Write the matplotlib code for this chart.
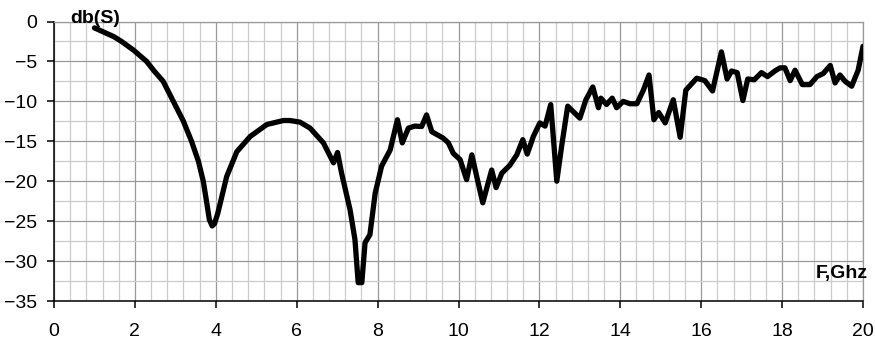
import matplotlib
matplotlib.use("Agg")
import matplotlib.pyplot as plt
from matplotlib.ticker import MultipleLocator

# frequency (GHz) and reflection (dB)
freq = [1.00, 1.48, 1.67, 1.97, 2.29, 2.46, 2.70, 2.95, 3.20, 3.40, 3.57,
        3.69, 3.77, 3.84, 3.91, 3.97, 4.05, 4.27, 4.52, 4.85, 5.26, 5.67, 5.83, 6.08,
        6.33, 6.66, 6.91, 7.01, 7.11, 7.32, 7.44, 7.52, 7.61, 7.69, 7.81,
        7.94, 8.10, 8.31, 8.49, 8.61, 8.76, 8.92, 9.09, 9.21, 9.34, 9.62,
        9.75, 9.87, 10.04, 10.20, 10.33, 10.45, 10.60, 10.82, 10.93, 11.07,
        11.27, 11.44, 11.59, 11.70, 11.85, 12.01, 12.14, 12.28, 12.43, 12.55,
        12.70, 12.84, 13.00, 13.15, 13.32, 13.46, 13.52, 13.66, 13.80, 13.91,
        14.07, 14.24, 14.41, 14.57, 14.71, 14.83, 14.95, 15.11, 15.31, 15.48,
        15.62, 15.89, 16.09, 16.28, 16.50, 16.64, 16.75, 16.89, 17.03, 17.15,
        17.31, 17.49, 17.64, 17.82, 17.95, 18.07, 18.20, 18.32, 18.50, 18.69,
        18.86, 19.02, 19.19, 19.31, 19.43, 19.56, 19.72, 19.88, 20.00]
s_db = [-0.8, -1.9, -2.5, -3.6, -5.0, -6.1, -7.5, -10.0, -12.5, -15.0, -17.5,
        -20.0, -22.5, -24.8, -25.6, -25.3, -24.0, -19.4, -16.3, -14.4, -12.9, -12.4, -12.4, -12.6,
        -13.35, -15.2, -17.7, -16.4, -19.0, -23.6, -27.3, -32.7, -32.7, -27.7, -26.7,
        -21.5, -18.1, -16.1, -12.3, -15.2, -13.35, -13.1, -13.15, -11.7, -13.8, -14.6,
        -15.2, -16.5, -17.3, -19.8, -16.7, -19.4, -22.7, -18.6, -20.8, -19.0,
        -18.0, -16.7, -14.8, -16.6, -14.4, -12.7, -13.1, -10.4, -20.0, -15.6,
        -10.6, -11.3, -12.1, -9.8, -8.2, -10.8, -9.6, -10.4, -9.6, -10.8,
        -10.0, -10.3, -10.3, -8.6, -6.7, -12.3, -11.4, -12.7, -9.8, -14.5,
        -8.6, -7.1, -7.4, -8.7, -3.8, -7.2, -6.2, -6.4, -9.9, -7.2,
        -7.3, -6.4, -6.9, -6.2, -5.8, -5.8, -7.4, -6.1, -7.9, -7.9,
        -6.9, -6.5, -5.5, -7.7, -6.7, -7.5, -8.1, -6.1, -3.1]

fig = plt.figure(figsize=(8.75, 3.44), dpi=100)
ax = fig.add_axes([54 / 875, 1 - 301 / 344, (863 - 54) / 875, (301 - 21.5) / 344])

ax.plot(freq, s_db, color="black", lw=3.8, solid_joinstyle="round", solid_capstyle="round", zorder=3)

ax.set_xlim(0, 20)
ax.set_ylim(-35, 0)
ax.xaxis.set_major_locator(MultipleLocator(2))
ax.xaxis.set_minor_locator(MultipleLocator(0.4))
ax.yaxis.set_major_locator(MultipleLocator(5))
ax.yaxis.set_minor_locator(MultipleLocator(2.5))

ax.grid(which="major", color="#999999", lw=0.9)
ax.grid(which="minor", color="#cccccc", lw=0.9)
ax.set_axisbelow(True)

for s in ["top", "right"]:
    ax.spines[s].set_color("#999999")
    ax.spines[s].set_linewidth(0.9)
for s in ["left", "bottom"]:
    ax.spines[s].set_color("black")
    ax.spines[s].set_linewidth(1.1)

ax.tick_params(which="major", direction="out", length=5, width=1.1, labelsize=14, color="black")
ax.tick_params(axis="x", which="major", pad=11)
ax.tick_params(axis="y", which="major", pad=7)
ax.tick_params(which="minor", length=0)
for lab in ax.get_xticklabels() + ax.get_yticklabels():
    lab.set_fontfamily("Liberation Sans")

ax.text(1.01, 0.4, "db(S)", fontsize=14, fontweight="bold", family="Liberation Sans",
        ha="center", va="center", clip_on=False)
ax.text(19.48, -31.6, "F,Ghz", fontsize=14, fontweight="bold", family="Liberation Sans",
        ha="center", va="center", clip_on=False)

fig.savefig("out.png", dpi=100)
